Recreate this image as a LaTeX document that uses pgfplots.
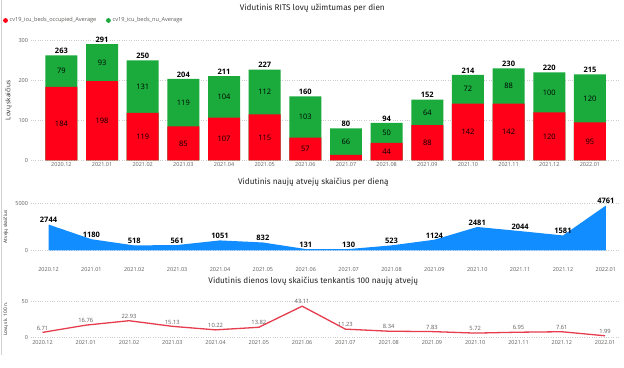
\documentclass[border=0pt]{standalone}
\usepackage{fontspec}
\setmainfont{Open Sans}
\newfontfamily\titlefont{Fira Sans}
\usepackage{pgfplots}
\usepackage{pgfplotstable}
\pgfplotsset{compat=1.18}
\definecolor{barred}{RGB}{255,0,24}
\definecolor{bargreen}{RGB}{26,171,60}
\definecolor{pbblue}{RGB}{17,141,255}
\definecolor{linered}{RGB}{230,60,78}
\definecolor{ticktxt}{RGB}{96,94,92}
\definecolor{titletxt}{RGB}{37,37,37}

\pgfplotstableread{
x occ nu
0 184 79
1 198 93
2 119 131
3 85 119
4 107 104
5 115 112
6 57 103
7 14 66
8 44 50
9 88 64
10 142 72
11 142 88
12 120 100
13 95 120
}\bedtab

\pgfplotstableread{
x cases
0 2744
1 1180
2 518
3 561
4 1051
5 832
6 131
7 130
8 523
9 1124
10 2481
11 2044
12 1581
13 4761
}\casetab

\pgfplotstableread{
x ratio
0 6.71
1 16.76
2 22.93
3 15.13
4 10.22
5 13.82
6 43.11
7 11.23
8 8.34
9 7.83
10 5.72
11 6.95
12 7.61
13 1.99
}\ratiotab

\pgfplotsset{
  pbi/.style={
    scale only axis,
    clip=false,
    axis line style={draw=none},
    tick style={draw=none},
    ymajorgrids,
    grid style={dotted, gray!40, line width=0.7pt},
    xtick={0,...,13},
    xticklabels={2020.12,2021.01,2021.02,2021.03,2021.04,2021.05,2021.06,2021.07,2021.08,2021.09,2021.10,2021.11,2021.12,2022.01},
    tick label style={font=\fontsize{5.5}{6}\selectfont, text=ticktxt},
    /pgf/number format/assume math mode=true,
    /pgf/number format/1000 sep={},
    scaled y ticks=false,
    yticklabel style={xshift=1pt},
  }
}

\begin{document}
\begin{tikzpicture}[x=1pt,y=1pt]
\fill[white] (0,0) rectangle (624,367);
\draw[gray!35, line width=1pt] (1,367) -- (1,12);

% legend
\fill[barred] (5,347) circle (2.4);
\node[anchor=west, inner sep=0, font=\fontsize{5.6}{6}\selectfont, text=ticktxt] at (9,347) {cv19\_icu\_beds\_occupied\_Average};
\fill[bargreen] (108,347) circle (2.4);
\node[anchor=west, inner sep=0, font=\fontsize{5.6}{6}\selectfont, text=ticktxt] at (112,347) {cv19\_icu\_beds\_nu\_Average};

% titles
\node[font=\titlefont\fontsize{8.2}{9}\selectfont, text=titletxt] at (312,359) {Vidutinis RITS lovų užimtumas per dien};
\node[font=\titlefont\fontsize{8.2}{9}\selectfont, text=titletxt] at (313,185) {Vidutinis naujų atvejų skaičius per dieną};
\node[font=\titlefont\fontsize{8.2}{9}\selectfont, text=titletxt] at (313,86) {Vidutinis dienos lovų skaičius tenkantis 100 naujų atvejų};

% panel 1
\begin{axis}[pbi,
  at={(30pt,207pt)}, anchor=south west,
  width=590pt, height=120pt,
  xmin=-0.76, xmax=13.74, ymin=0, ymax=300,
  ytick={0,100,200,300},
  xticklabel style={yshift=1pt},
  ylabel={Lovų skaičius},
  every axis y label/.style={at={(axis description cs:-0.037,0.5)}, rotate=90, anchor=center, font=\fontsize{6.5}{7}\selectfont, text=titletxt},
]
\addplot[ybar, bar width=32pt, bar shift=0pt, fill=bargreen, draw=none] table[x=x, y expr=\thisrow{occ}+\thisrow{nu}] {\bedtab};
\addplot[ybar, bar width=32pt, bar shift=0pt, fill=barred, draw=none] table[x=x, y=occ] {\bedtab};
\addplot[draw=none, mark=none, nodes near coords, point meta=explicit,
  every node near coord/.style={anchor=center, font=\fontsize{7.5}{8}\selectfont, text=black},
  unbounded coords=discard, x filter/.expression={x==7 ? nan : x}]
  table[x=x, y expr=\thisrow{occ}/2, meta=occ] {\bedtab};
\addplot[draw=none, mark=none, nodes near coords, point meta=explicit,
  every node near coord/.style={anchor=center, font=\fontsize{7.5}{8}\selectfont, text=black}]
  table[x=x, y expr=\thisrow{occ}+\thisrow{nu}/2, meta=nu] {\bedtab};
\addplot[draw=none, mark=none, nodes near coords, point meta=explicit,
  every node near coord/.style={anchor=south, inner sep=1.5pt, font=\bfseries\fontsize{7.5}{8}\selectfont, text=black}]
  table[x=x, y expr=\thisrow{occ}+\thisrow{nu}, meta expr=\thisrow{occ}+\thisrow{nu}] {\bedtab};
\end{axis}

% panel 2
\begin{axis}[pbi,
  at={(30pt,117pt)}, anchor=south west,
  width=590pt, height=47pt,
  xmin=-0.42, xmax=13.33, ymin=0, ymax=5000,
  ytick={0,5000},
  xticklabel style={yshift=-14pt},
  ylabel={Atvejų skaičius},
  every axis y label/.style={at={(axis description cs:-0.042,0.5)}, rotate=90, anchor=center, font=\fontsize{4.8}{5}\selectfont, text=titletxt},
]
\addplot[fill=pbblue, draw=none] table[x=x, y=cases] {\casetab} \closedcycle;
\addplot[draw=none, mark=none, nodes near coords, point meta=explicit,
  every node near coord/.style={anchor=south, inner sep=1.5pt, font=\bfseries\fontsize{7.5}{8}\selectfont, text=black}]
  table[x=x, y=cases, meta=cases] {\casetab};
\end{axis}

% panel 3
\begin{axis}[pbi,
  at={(30pt,30pt)}, anchor=south west,
  width=590pt, height=36pt,
  xmin=-0.277, xmax=13.346, ymin=0, ymax=50,
  ytick={0,50},
  xticklabel style={yshift=0pt},
  ylabel={Lovų sk. 100 n.},
  every axis y label/.style={at={(axis description cs:-0.042,0.5)}, rotate=90, anchor=center, font=\fontsize{4.8}{5}\selectfont, text=titletxt},
]
\addplot[linered, line width=1.3pt, mark=none] table[x=x, y=ratio] {\ratiotab};
\addplot[draw=none, mark=none, nodes near coords, point meta=explicit,
  nodes near coords={\pgfmathprintnumber[fixed,fixed zerofill,precision=2]{\pgfplotspointmeta}},
  every node near coord/.style={anchor=south, inner sep=2pt, font=\fontsize{5.8}{6}\selectfont, text=ticktxt}]
  table[x=x, y=ratio, meta=ratio] {\ratiotab};
\end{axis}
\end{tikzpicture}
\end{document}
